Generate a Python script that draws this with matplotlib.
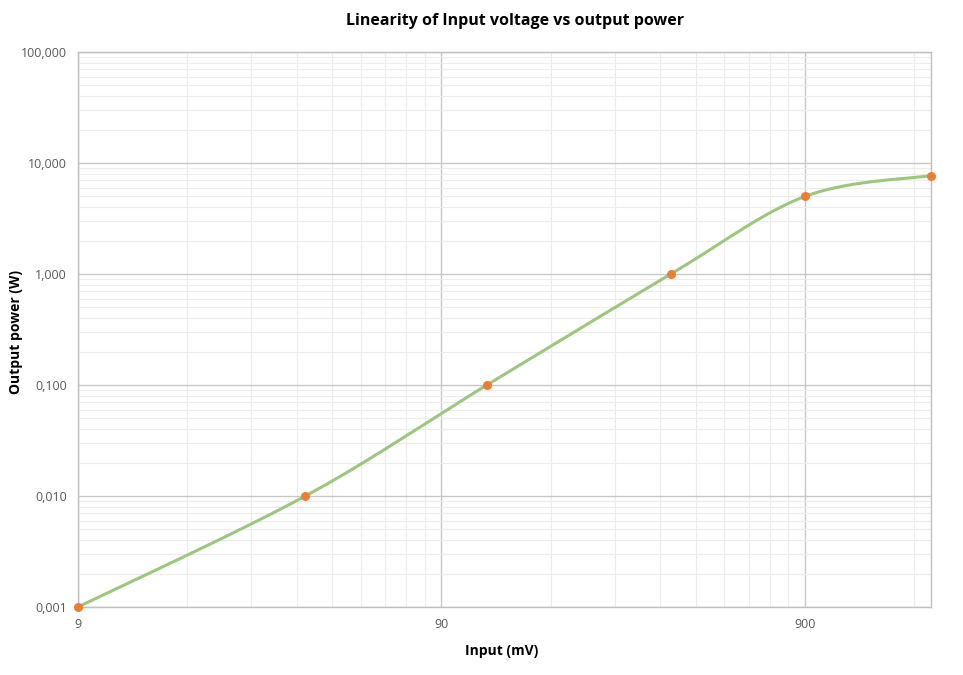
import numpy as np
import matplotlib.pyplot as plt
from matplotlib.ticker import FixedLocator, FuncFormatter, NullFormatter

# data
input_mv = [9, 38, 120, 385, 900, 2000]
output_w = [0.001, 0.01, 0.1, 1.0, 5.0, 7.7]

x_major = [9, 90, 900]
x_minor = [9 * k * d for d in (1, 10, 100) for k in range(2, 10)] + [1800]
y_major = [0.001, 0.01, 0.1, 1, 10, 100]


def smooth(xs, ys, n=60):
    # Excel-like smoothed line: Catmull-Rom bezier in log-log space
    px = np.log10(xs)
    py = np.log10(ys)
    pts = np.column_stack([px, py])
    out = []
    for i in range(len(pts) - 1):
        p0 = pts[i - 1] if i > 0 else pts[i]
        p1 = pts[i]
        p2 = pts[i + 1]
        p3 = pts[i + 2] if i + 2 < len(pts) else pts[i + 1]
        c1 = p1 + (p2 - p0) / 6
        c2 = p2 - (p3 - p1) / 6
        t = np.linspace(0, 1, n)[:, None]
        seg = ((1 - t) ** 3) * p1 + 3 * ((1 - t) ** 2) * t * c1 + 3 * (1 - t) * t ** 2 * c2 + t ** 3 * p2
        out.append(seg)
    out = np.vstack(out)
    return 10 ** out[:, 0], 10 ** out[:, 1]


fig = plt.figure(figsize=(9.63, 6.75), dpi=100)
ax = fig.add_axes([78 / 963, 1 - 607 / 675, (931 - 78) / 963, (607 - 52) / 675])

ax.set_xscale('log')
ax.set_yscale('log')
ax.set_xlim(9, 2000)
ax.set_ylim(0.001, 100)

ax.xaxis.set_major_locator(FixedLocator(x_major))
ax.xaxis.set_minor_locator(FixedLocator(x_minor))
ax.xaxis.set_major_formatter(FuncFormatter(lambda v, p: f"{v:g}"))
ax.xaxis.set_minor_formatter(NullFormatter())
ax.yaxis.set_major_locator(FixedLocator(y_major))
ax.yaxis.set_major_formatter(FuncFormatter(lambda v, p: f"{v:.3f}".replace('.', ',')))
ax.yaxis.set_minor_formatter(NullFormatter())

ax.grid(which='major', color='#c8c8c8', linewidth=1.0)
ax.grid(which='minor', color='#ececec', linewidth=0.8)
ax.set_axisbelow(True)
for s in ax.spines.values():
    s.set_color('#bfbfbf')
    s.set_linewidth(1.0)

ax.tick_params(which='both', length=0, labelsize=9, labelcolor='#595959', pad=8)
for lab in ax.get_xticklabels() + ax.get_yticklabels():
    lab.set_fontfamily('Open Sans')

sx, sy = smooth(input_mv, output_w)
ax.plot(sx, sy, color='#9dc67f', linewidth=2.2, solid_capstyle='round', zorder=3, clip_on=False)
ax.plot(input_mv, output_w, 'o', color='#ed7d31', markersize=5.5, zorder=4, clip_on=False)

fig.text(515 / 963, 1 - 21 / 675, 'Linearity of Input voltage vs output power',
         ha='center', va='center', fontsize=11.5, fontweight='bold', family='Open Sans')
fig.text(502 / 963, 1 - 651 / 675, 'Input (mV)', ha='center', va='center',
         fontsize=10, fontweight='bold', family='Open Sans')
fig.text(16 / 963, 1 - 332 / 675, 'Output power (W)', ha='center', va='center', rotation=90,
         fontsize=10, fontweight='bold', family='Open Sans')

fig.savefig('out.png', dpi=100)
